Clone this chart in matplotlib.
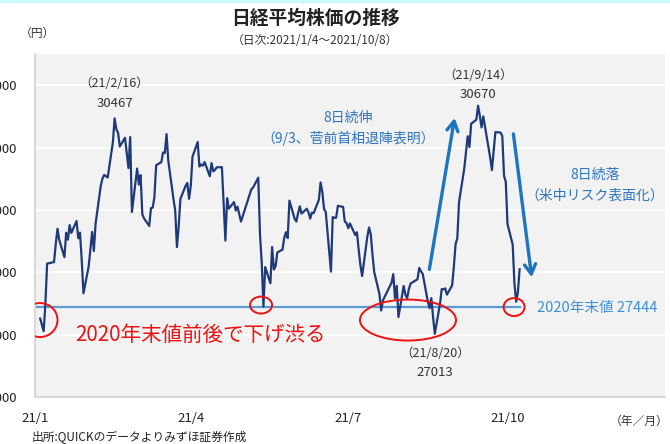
import numpy as np
import pandas as pd
import matplotlib
matplotlib.use('Agg')
from matplotlib import pyplot as plt
import matplotlib.dates as mdates
from matplotlib.patches import Ellipse, Rectangle

plt.rcParams['font.family'] = ['Noto Sans CJK JP', 'DejaVu Sans']

#data: Nikkei 225 daily close 2021/1/4 - 2021/10/8
dates = [
    '2021-01-04','2021-01-05','2021-01-06','2021-01-07','2021-01-08','2021-01-12','2021-01-13','2021-01-14',
    '2021-01-15','2021-01-18','2021-01-19','2021-01-20','2021-01-21','2021-01-22','2021-01-25','2021-01-26',
    '2021-01-27','2021-01-28','2021-01-29','2021-02-01','2021-02-02','2021-02-03','2021-02-04','2021-02-05',
    '2021-02-08','2021-02-09','2021-02-10','2021-02-12','2021-02-15','2021-02-16','2021-02-17','2021-02-18',
    '2021-02-19','2021-02-22','2021-02-24','2021-02-25','2021-02-26','2021-03-01','2021-03-02','2021-03-03',
    '2021-03-04','2021-03-05','2021-03-08','2021-03-09','2021-03-10','2021-03-11','2021-03-12','2021-03-15',
    '2021-03-16','2021-03-17','2021-03-18','2021-03-19','2021-03-22','2021-03-23','2021-03-24','2021-03-25',
    '2021-03-26','2021-03-29','2021-03-30','2021-03-31','2021-04-01','2021-04-02','2021-04-05','2021-04-06',
    '2021-04-07','2021-04-08','2021-04-09','2021-04-12','2021-04-13','2021-04-14','2021-04-15','2021-04-16',
    '2021-04-19','2021-04-20','2021-04-21','2021-04-22','2021-04-23','2021-04-26','2021-04-27','2021-04-28',
    '2021-04-30','2021-05-06','2021-05-07','2021-05-10','2021-05-11','2021-05-12','2021-05-13','2021-05-14',
    '2021-05-17','2021-05-18','2021-05-19','2021-05-20','2021-05-21','2021-05-24','2021-05-25','2021-05-26',
    '2021-05-27','2021-05-28','2021-05-31','2021-06-01','2021-06-02','2021-06-03','2021-06-04','2021-06-07',
    '2021-06-08','2021-06-09','2021-06-10','2021-06-11','2021-06-14','2021-06-15','2021-06-16','2021-06-17',
    '2021-06-18','2021-06-21','2021-06-22','2021-06-23','2021-06-24','2021-06-25','2021-06-28','2021-06-29',
    '2021-06-30','2021-07-01','2021-07-02','2021-07-05','2021-07-06','2021-07-07','2021-07-08','2021-07-09',
    '2021-07-12','2021-07-13','2021-07-14','2021-07-15','2021-07-16','2021-07-19','2021-07-20','2021-07-21',
    '2021-07-26','2021-07-27','2021-07-28','2021-07-29','2021-07-30','2021-08-02','2021-08-03','2021-08-04',
    '2021-08-05','2021-08-06','2021-08-10','2021-08-11','2021-08-12','2021-08-13','2021-08-16','2021-08-17',
    '2021-08-18','2021-08-19','2021-08-20','2021-08-23','2021-08-24','2021-08-25','2021-08-26','2021-08-27',
    '2021-08-30','2021-08-31','2021-09-01','2021-09-02','2021-09-03','2021-09-06','2021-09-07','2021-09-08',
    '2021-09-09','2021-09-10','2021-09-13','2021-09-14','2021-09-15','2021-09-16','2021-09-17','2021-09-21',
    '2021-09-22','2021-09-24','2021-09-27','2021-09-28','2021-09-29','2021-09-30','2021-10-01','2021-10-04',
    '2021-10-05','2021-10-06','2021-10-07','2021-10-08']
close = [
    27258,27158,27056,27490,28139,28164,28456,28698,28519,28242,28633,28523,28756,28631,28822,28546,
    28635,28197,27663,28091,28362,28646,28341,28779,29388,29505,29562,29520,30084,30467,30292,30236,
    30017,30156,29671,30168,28966,29663,29408,29559,28930,28864,28743,29028,29036,29211,29717,29766,
    29921,29914,30216,29792,29174,28995,28405,28729,29176,29385,29432,29178,29388,29854,30089,29696,
    29730,29708,29768,29538,29751,29620,29642,29683,29685,29100,28508,29188,29020,29126,28991,29053,
    28812,29331,29357,29518,28608,28147,27448,28084,27824,28406,28044,28098,28317,28364,28553,28642,
    28549,29149,28860,28814,28946,29058,28941,29019,28963,28860,28958,28948,29161,29441,29291,29018,
    28964,28010,28884,28874,28875,29066,29048,28812,28791,28707,28783,28598,28643,28366,28118,27940,
    28569,28718,28608,28279,28003,27652,27388,27548,27833,27970,27582,27782,27283,27781,27641,27584,
    27728,27820,27888,28070,28015,27977,27523,27424,27585,27281,27013,27494,27732,27724,27742,27641,
    27789,28089,28451,28543,29128,29659,29916,30181,30008,30381,30447,30670,30511,30323,30500,29839,
    29639,30248,30240,30183,29544,29452,28771,28444,27822,27528,27678,28048]
end2020 = 27444

yticks = [26000, 27000, 28000, 29000, 30000, 31000]
xtick_dates = ['2021-01-01', '2021-04-01', '2021-07-01', '2021-10-01']
xtick_labels = ['21/1', '21/4', '21/7', '21/10']

dates = pd.to_datetime(dates)
close = np.array(close)

#figure
fig = plt.figure(figsize=(6.7, 4.44), dpi=100)
fig.patches.append(Rectangle((0, 0.996), 1, 0.004, transform=fig.transFigure,
                             color='#ccfbff', zorder=0))
ax = fig.add_axes([35/670, 47/444, 630/670, 343/444])
ax.set_facecolor('#f2f2f2')

ax.set_xlim(pd.Timestamp('2021-01-01'), pd.Timestamp('2021-12-31'))
ax.set_ylim(26000, 31500)

#grid
ax.set_yticks(yticks)
ax.set_yticklabels([str(v) for v in yticks], fontsize=9.5, color='#222222')
ax.yaxis.grid(True, color='white', lw=1.3)
ax.set_axisbelow(True)
ax.tick_params(axis='y', length=0, pad=13)
ax.set_xticks(pd.to_datetime(xtick_dates))
ax.set_xticklabels(xtick_labels, fontsize=9.5, color='#222222')
ax.tick_params(axis='x', length=0, pad=11)
for s in ['top', 'right']:
    ax.spines[s].set_visible(False)
ax.spines['left'].set_color('#d9d9d9')
ax.spines['left'].set_linewidth(1.5)
ax.spines['bottom'].set_color('#d9d9d9')
ax.spines['bottom'].set_linewidth(1.5)

#lines
ax.plot([pd.Timestamp('2021-01-01'), dates[-1]], [end2020, end2020], color='#5b9bd5', lw=1.6, zorder=2)
ax.plot(dates, close, color='#1f3a78', lw=1.6, zorder=3)

#red circles
red = '#ee1111'
def ellipse(day, val, w, h):
    x = mdates.date2num(pd.Timestamp('2021-01-01') + pd.Timedelta(days=day))
    ax.add_patch(Ellipse((x, val), w, h, fill=False, ec=red, lw=1.4, zorder=4))
ellipse(2.9, 27234, 20.2, 545)
ellipse(130.6, 27474, 12.7, 272)
ellipse(215.5, 27234, 55.5, 657)
ellipse(276.8, 27442, 12.1, 288)

def d(day):
    return pd.Timestamp('2021-01-01') + pd.Timedelta(days=day)

#annotations
txt = '#333333'
ax.text(pd.Timestamp('2021-02-16'), 31030, '（21/2/16）', ha='center', va='center', fontsize=9, color=txt)
ax.text(pd.Timestamp('2021-02-16'), 30710, '30467', ha='center', va='center', fontsize=9.5, color=txt)
ax.text(pd.Timestamp('2021-09-14'), 31160, '（21/9/14）', ha='center', va='center', fontsize=9, color=txt)
ax.text(pd.Timestamp('2021-09-14'), 30855, '30670', ha='center', va='center', fontsize=9.5, color=txt)
ax.text(pd.Timestamp('2021-08-20'), 26705, '（21/8/20）', ha='center', va='center', fontsize=9, color=txt)
ax.text(pd.Timestamp('2021-08-20'), 26400, '27013', ha='center', va='center', fontsize=9.5, color=txt)

blue = '#2e75c0'
ax.text(d(181), 30470, '8日続伸', ha='center', va='center', fontsize=10, color=blue)
ax.text(d(181), 30150, '（9/3、菅前首相退陣表明）', ha='center', va='center', fontsize=10, color=blue)
ax.text(d(323.5), 29558, '8日続落', ha='center', va='center', fontsize=10, color=blue)
ax.text(d(323.5), 29237, '（米中リスク表面化）', ha='center', va='center', fontsize=10, color=blue)
ax.text(d(290), 27420, '2020年末値 27444', ha='left', va='center', fontsize=10.5, color='#3d8fd8')
ax.text(d(23), 26994, '2020年末値前後で下げ渋る', ha='left', va='center', fontsize=14.8, color=red)

#arrows
arrow = dict(arrowstyle='->,head_length=0.7,head_width=0.4', color='#1f74c0', lw=2.4)
ax.annotate('', xy=(d(242.7), 30519), xytext=(d(227.6), 28003), arrowprops=arrow)
ax.annotate('', xy=(d(287.2), 27875), xytext=(d(276.2), 30263), arrowprops=arrow)

#titles and notes
fig.text(315/670, 1-18/444, '日経平均株価の推移', ha='center', va='center', fontsize=13.5, weight='bold', color='#222222')
fig.text(315/670, 1-40/444, '（日次:2021/1/4～2021/10/8）', ha='center', va='center', fontsize=8.5, color='#333333')
fig.text(20/670, 1-33/444, '（円）', ha='left', va='center', fontsize=8.5, color='#333333')
fig.text(669/670, 1-421/444, '（年／月）', ha='right', va='center', fontsize=8.5, color='#333333')
fig.text(32/670, 1-437/444, '出所:QUICKのデータよりみずほ証券作成', ha='left', va='center', fontsize=8.5, color='#222222')

plt.savefig('out.png', dpi=100)
print("Done!!!")
